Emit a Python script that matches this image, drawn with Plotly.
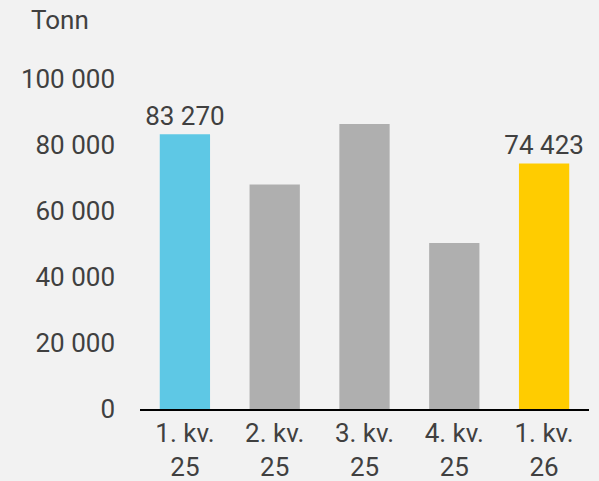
import plotly.graph_objects as go

categories = ["1. kv.<br>25", "2. kv.<br>25", "3. kv.<br>25", "4. kv.<br>25", "1. kv.<br>26"]
values = [83270, 68000, 86400, 50300, 74423]
show_label = [True, False, False, False, True]
colors = ["#5ec8e5", "#afafaf", "#afafaf", "#afafaf", "#ffcc00"]
y_title = "Tonn"

def fmt(v):
    return f"{v:,}".replace(",", " ")

texts = [fmt(v) if s else "" for v, s in zip(values, show_label)]

font = dict(family="Roboto", size=26, color="#404040")

fig = go.Figure(go.Bar(
    x=categories, y=values, marker=dict(color=colors, line=dict(width=0)),
    text=texts, textposition="outside", cliponaxis=False, constraintext="none",
    textfont=font, hoverinfo="skip",
))

fig.update_layout(
    width=599, height=481,
    margin=dict(l=139.5, r=9.5, t=79, b=72, pad=0),
    paper_bgcolor="#f2f2f2", plot_bgcolor="#f2f2f2",
    font=font, bargap=0.44, showlegend=False,
    separators=", ",
    xaxis=dict(showline=True, linecolor="#000000", linewidth=1.5, ticks="",
               showgrid=False, zeroline=False, tickfont=font, ticklabelstandoff=0,
               automargin=False),
    yaxis=dict(range=[0, 100000], dtick=20000, tickformat=",d", showgrid=False,
               zeroline=False, showline=False, ticks="", tickfont=font,
               ticklabelstandoff=24, automargin=False),
    annotations=[dict(text=y_title, xref="paper", yref="paper", x=-0.248, y=1.0,
                      xanchor="left", yanchor="bottom", yshift=42, showarrow=False,
                      font=font)],
)

fig.write_html("out.html", config={"displayModeBar": False},
               post_script="document.body.style.margin='0';document.body.style.overflow='hidden';")
